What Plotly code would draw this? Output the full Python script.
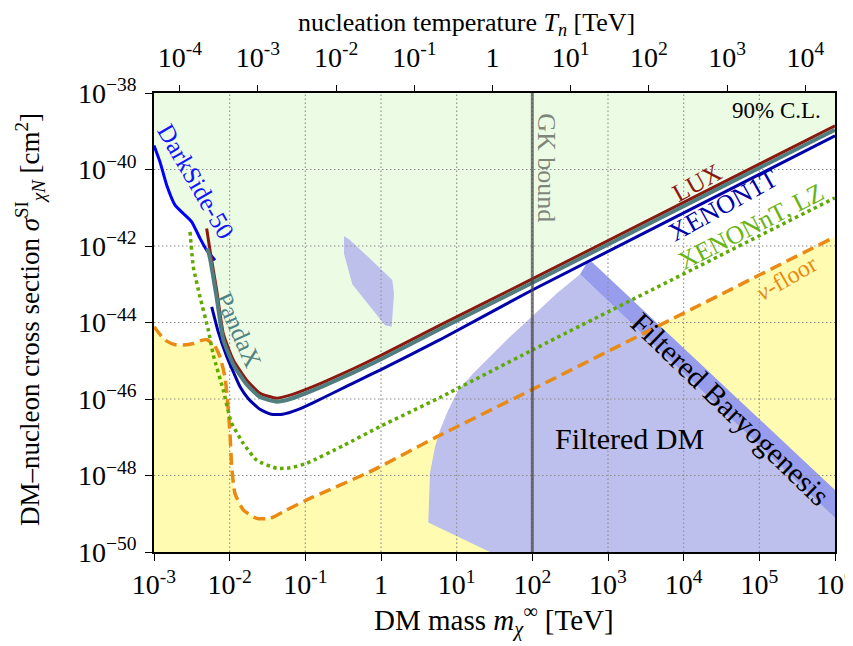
import numpy as np
import plotly.graph_objects as go

# ---------------- data (log10 values) ----------------
X_RANGE_LOG = [-3, 6]          # DM mass [TeV]
Y_RANGE_LOG = [-50, -38]       # cross section [cm^2]
T_RANGE_LOG = [-4.33, 4.38]    # nucleation temperature [TeV]

X_TICKS_LOG = list(range(-3, 7))
Y_TICKS_LOG = list(range(-50, -37, 2))
T_TICKS_LOG = list(range(-4, 5))

GK_BOUND = 100.0  # TeV

darkside_logm = [-3.0, -2.921, -2.832, -2.722, -2.613, -2.502, -2.392, -2.304, -2.194]
darkside_logs = [-39.37, -39.80, -40.41, -40.93, -41.15, -41.37, -41.80, -42.11, -42.37]

lux_logm = [-2.304, -2.26, -2.172, -2.084, -1.952, -1.775, -1.6, -1.378, -1.2, -0.982, -0.75, -0.5, -0.25, 0.0, 0.78, 2.0, 6.0]
lux_logs = [-41.54, -42.11, -43.15, -44.29, -44.98, -45.51, -45.85, -45.98, -45.90, -45.74, -45.55, -45.33, -45.10, -44.86, -44.07, -42.86, -38.86]

pandax_logm = [-2.295, -2.26, -2.172, -2.084, -1.952, -1.775, -1.6, -1.378, -1.2, -0.982, -0.75, -0.5, -0.25, 0.0, 0.78, 2.0, 6.0]
pandax_logs = [-42.06, -42.32, -43.35, -44.45, -45.10, -45.62, -45.95, -46.07, -46.00, -45.84, -45.65, -45.43, -45.20, -44.96, -44.17, -42.96, -38.96]

xenon1t_logm = [-2.237, -2.15, -2.04, -1.95, -1.863, -1.75, -1.6, -1.45, -1.3, -1.1, -0.9, -0.6, -0.3, 0.0, 0.78, 2.0, 6.0]
xenon1t_logs = [-43.59, -44.25, -44.88, -45.30, -45.68, -46.00, -46.27, -46.40, -46.40, -46.28, -46.10, -45.81, -45.52, -45.23, -44.45, -43.15, -39.12]

xenonnt_logm = [-2.524, -2.48, -2.392, -2.282, -2.216, -2.084, -1.98, -1.82, -1.643, -1.378, -1.2, -0.982, -0.5, -0.013, 0.78, 2.0, 6.0]
xenonnt_logs = [-41.63, -42.55, -43.33, -44.20, -44.85, -45.77, -46.60, -47.16, -47.60, -47.81, -47.80, -47.68, -47.22, -46.72, -45.96, -44.72, -40.74]

nufloor_logm = [-3.0, -2.855, -2.72, -2.613, -2.48, -2.392, -2.30, -2.2, -2.128, -2.062, -2.018, -1.996, -1.973,
                -1.93, -1.82, -1.643, -1.467, -1.246, -0.982, -0.102, 0.736, 2.0, 6.0]
nufloor_logs = [-44.11, -44.46, -44.58, -44.59, -44.55, -44.48, -44.45, -44.60, -44.90, -45.42, -46.29, -46.90, -47.77,
                -48.47, -48.90, -49.12, -49.12, -48.90, -48.64, -47.86, -46.99, -45.75, -41.76]

blob_logm = [-0.489, -0.419, -0.102, 0.149, 0.172, 0.141, 0.053, -0.379, -0.489]
blob_logs = [-41.74, -41.83, -42.41, -42.89, -43.24, -44.11, -44.07, -43.00, -42.20]

filtdm_logm = [0.625, 0.647, 0.714, 0.780, 0.889, 1.021, 1.220, 1.440, 1.705, 2.013, 2.322, 2.630, 6.0, 6.0, 1.440]
filtdm_logs = [-49.23, -47.94, -47.25, -46.81, -46.29, -45.77, -45.33, -44.90, -44.37, -43.81, -43.24, -42.74, -49.11, -50.0, -50.0]

baryo_logm = [2.630, 2.72, 2.788, 6.0, 6.0]
baryo_logs = [-42.74, -42.45, -42.42, -48.38, -49.11]

# ---------------- helpers ----------------
def p10(a):
    return list(np.power(10.0, np.array(a, dtype=float)))

X_MIN, X_MAX = 10.0 ** X_RANGE_LOG[0], 10.0 ** X_RANGE_LOG[1]
Y_MIN, Y_MAX = 10.0 ** Y_RANGE_LOG[0], 10.0 ** Y_RANGE_LOG[1]

SERIF = "Liberation Serif"
fig = go.Figure()

def poly(xl, yl, color, name):
    fig.add_trace(go.Scatter(x=xl, y=yl, fill="toself", fillcolor=color, mode="lines",
                             line=dict(width=0, color=color), hoverinfo="skip", showlegend=False, name=name))

# green excluded region (above envelope of DarkSide + PandaX)
k = sum(1 for v in darkside_logm if v <= -2.30)
env_x = p10(darkside_logm[:k]) + p10(pandax_logm) + [X_MAX, X_MIN]
env_y = p10(darkside_logs[:k]) + p10(pandax_logs) + [Y_MAX, Y_MAX]
poly(env_x, env_y, "rgb(236,251,228)", "excluded")

# yellow neutrino-floor region
poly(p10(nufloor_logm) + [X_MAX, X_MIN], p10(nufloor_logs) + [Y_MIN, Y_MIN], "rgb(255,252,178)", "nu fog")

# blue regions
poly(p10(blob_logm), p10(blob_logs), "rgb(190,192,236)", "blob")
poly(p10(filtdm_logm), p10(filtdm_logs), "rgb(189,191,236)", "Filtered DM")
poly(p10(baryo_logm), p10(baryo_logs), "rgb(151,156,236)", "Filtered Baryogenesis")

# grid lines (drawn above fills, below curves)
GRID = dict(color="rgb(140,140,140)", width=1.1, dash="1.5px,2.5px")
for lx in X_TICKS_LOG[1:-1]:
    fig.add_trace(go.Scatter(x=[10.0 ** lx, 10.0 ** lx], y=[Y_MIN, Y_MAX], mode="lines",
                             line=GRID, hoverinfo="skip", showlegend=False))
for ly in Y_TICKS_LOG[1:-1]:
    fig.add_trace(go.Scatter(x=[X_MIN, X_MAX], y=[10.0 ** ly, 10.0 ** ly], mode="lines",
                             line=GRID, hoverinfo="skip", showlegend=False))

def curve(xl, yl, color, width, dash="solid", shape="spline"):
    fig.add_trace(go.Scatter(x=p10(xl), y=p10(yl), mode="lines",
                             line=dict(color=color, width=width, dash=dash, shape=shape, smoothing=0.5),
                             hoverinfo="skip", showlegend=False))

curve(nufloor_logm, nufloor_logs, "rgb(232,138,20)", 3.5, dash="12px,6px")
curve(xenonnt_logm, xenonnt_logs, "rgb(96,170,0)", 3.5, dash="dot")
curve(darkside_logm, darkside_logs, "rgb(0,0,255)", 3)
curve(xenon1t_logm, xenon1t_logs, "rgb(0,0,170)", 3)
curve(lux_logm, lux_logs, "rgb(140,25,15)", 3)
curve(pandax_logm, pandax_logs, "rgb(80,125,125)", 4)

# GK bound
fig.add_trace(go.Scatter(x=[GK_BOUND, GK_BOUND], y=[Y_MIN, Y_MAX], mode="lines",
                         line=dict(color="rgba(70,70,70,0.7)", width=3), hoverinfo="skip", showlegend=False))

# invisible trace for the top axis
fig.add_trace(go.Scatter(x=p10(T_TICKS_LOG), y=[Y_MAX] * len(T_TICKS_LOG), xaxis="x2", mode="markers",
                         marker=dict(opacity=0), hoverinfo="skip", showlegend=False))

def sup_label(e, minus="-"):
    if e == 0:
        return "1"
    s = str(e).replace("-", minus)
    return "10<sup>" + s + "</sup>"

tick_font = dict(family=SERIF, size=28, color="black")
AX = dict(showgrid=False, zeroline=False, ticks="outside", ticklen=7, tickwidth=1.3, tickcolor="black",
          automargin=False, ticklabeloverflow="allow", tickfont=tick_font)

# page has an 8px body margin; the plot area is placed so it lands at x 154..835, y 93..552 in the window
fig.update_layout(
    width=845, height=638,
    margin=dict(l=146, r=18, t=85, b=94, autoexpand=False),
    paper_bgcolor="white", plot_bgcolor="white",
    hovermode=False,
    font=dict(family=SERIF, color="black"),
    xaxis=dict(type="log", range=X_RANGE_LOG,
               tickvals=p10(X_TICKS_LOG), ticktext=[sup_label(e) for e in X_TICKS_LOG],
               showline=True, linecolor="black", linewidth=1.6, mirror=True, **AX),
    xaxis2=dict(type="log", range=T_RANGE_LOG, overlaying="x", side="top", anchor="y",
                tickvals=p10(T_TICKS_LOG), ticktext=[sup_label(e) for e in T_TICKS_LOG],
                showline=False, ticklabelstandoff=7, **AX),
    yaxis=dict(type="log", range=Y_RANGE_LOG,
               tickvals=p10(Y_TICKS_LOG), ticktext=[sup_label(e, "−") for e in Y_TICKS_LOG],
               showline=True, linecolor="black", linewidth=1.6, mirror=True, ticklabelstandoff=3, **AX),
)

# axis titles (paper coordinates relative to the plot area, given in window pixels)
PW, PH = 681.0, 459.0
def paper_text(text, px, py, size, angle=0):
    fig.add_annotation(x=(px - 154) / PW, y=(552 - py) / PH, xref="paper", yref="paper", text=text,
                       showarrow=False, textangle=angle, xanchor="center", yanchor="middle",
                       font=dict(family=SERIF, size=size, color="black"))

paper_text("DM mass <i>m</i><sub><i>χ</i></sub><sup>∞</sup> [TeV]", 494, 620, 29)
paper_text("nucleation temperature <i>T<sub>n</sub></i> [TeV]", 466, 24, 26)
paper_text("DM–nucleon cross section <i>σ</i><sup>SI</sup><sub><i>χN</i></sub> [cm<sup>2</sup>]", 30, 320, 27, -90)

def label(text, lx, ly, color, size, angle=0):
    fig.add_annotation(x=lx, y=ly, xref="x", yref="y", text=text, showarrow=False,
                       textangle=angle, font=dict(family=SERIF, size=size, color=color))

label("DarkSide-50", -2.445, -40.31, "rgb(20,20,255)", 25, 60)
label("PandaX", -1.877, -44.20, "rgb(80,130,130)", 25, 66)
label("GK bound", 2.194, -39.94, "rgba(90,95,90,0.75)", 26, 90)
label("90% C.L.", 5.233, -38.45, "black", 23)
label("LUX", 4.176, -40.33, "rgb(140,25,15)", 25, -29)
label("XENON1T", 4.52, -40.93, "rgb(0,0,170)", 26, -29)
label("XENONnT, LZ", 4.89, -41.48, "rgb(105,180,20)", 25.5, -27)
label("<i>ν</i>-floor", 5.365, -42.84, "rgb(232,138,20)", 24, -30)
label("Filtered Baryogenesis", 4.612, -46.26, "black", 30, 44)
label("Filtered DM", 3.29, -47.02, "black", 30)

fig.write_html("out.html")
